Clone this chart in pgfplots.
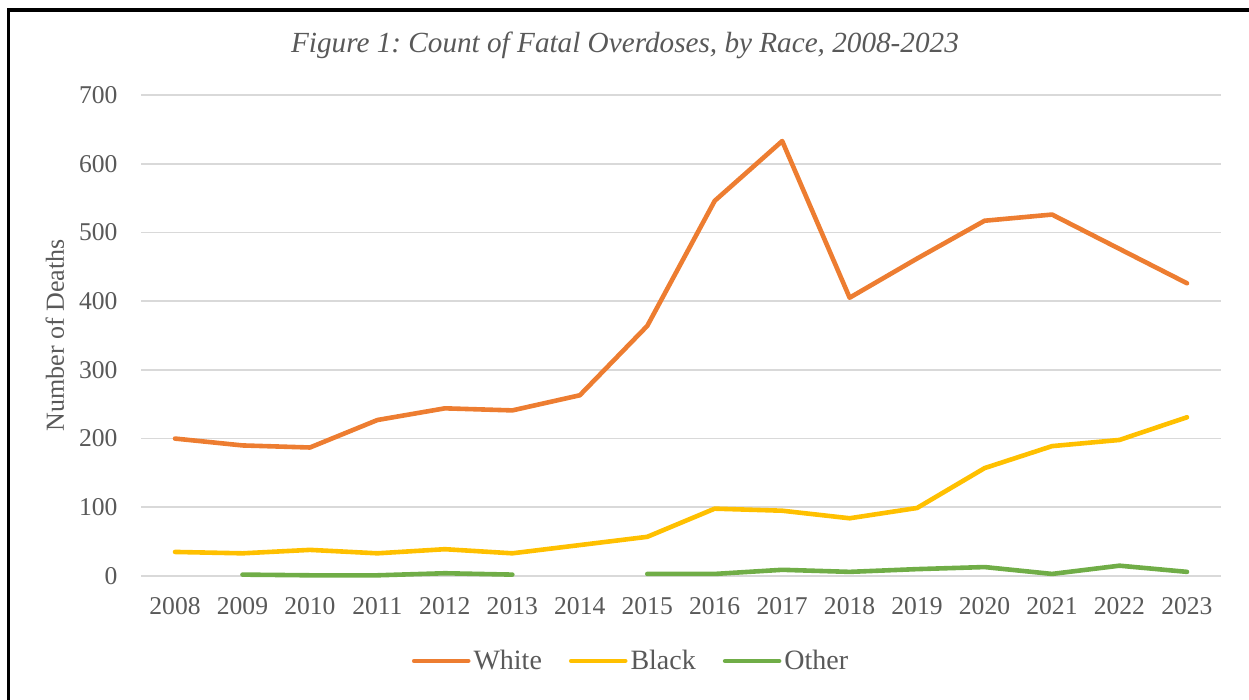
\documentclass[border=0pt]{standalone}
\usepackage{pgfplots}
\pgfplotsset{compat=1.18}
\usepackage{fontspec}
\setmainfont{Liberation Serif}
\frenchspacing

\definecolor{txtgray}{HTML}{595959}
\definecolor{gridgray}{HTML}{D9D9D9}
\definecolor{cWhite}{HTML}{ED7D31}
\definecolor{cBlack}{HTML}{FFC000}
\definecolor{cOther}{HTML}{70AD47}

\begin{document}
\begin{tikzpicture}
\path[use as bounding box] (0,0) rectangle (624.5pt,350pt);
% frame around the figure
\draw[line width=1.8pt, black] (4.2pt,0) -- (4.2pt,344.85pt) -- (624.5pt,344.85pt);
% figure caption
\node[font=\fontsize{14.6}{17}\selectfont\itshape, text=txtgray, anchor=center]
  at (312.5pt,327.5pt) {Figure 1: Count of Fatal Overdoses, by Race, 2008-2023};

\begin{axis}[
  at={(70.65pt,62pt)}, anchor=south west,
  scale only axis, width=539.7pt, height=240.5pt,
  xmin=2007.5, xmax=2023.5, ymin=0, ymax=700,
  xtick={2008,...,2023}, ytick={0,100,...,700},
  xticklabel={\pgfmathprintnumber[1000 sep={}]{\tick}},
  /pgf/number format/assume math mode=true,
  /pgf/number format/1000 sep={},
  axis line style={draw=none}, tick style={draw=none},
  ymajorgrids, grid style={gridgray, line width=0.8pt},
  ticklabel style={text=txtgray, font=\fontsize{12.8}{15}\selectfont},
  xticklabel style={inner sep=0pt, anchor=north, yshift=-10.5pt},
  yticklabel style={inner sep=0pt, anchor=east, xshift=-11.7pt},
  ylabel={Number of Deaths},
  ylabel style={at={(axis description cs:-0.08,0.5)}, anchor=center, rotate=0,
    text=txtgray, font=\fontsize{13}{15}\selectfont},
  clip=false,
  unbounded coords=jump,
  every axis plot/.append style={line width=2.3pt, line cap=round, line join=round},
  legend columns=3,
  legend style={at={(axis description cs:0.4542,-0.1767)}, anchor=center, draw=none,
    fill=none, font=\fontsize{14}{16}\selectfont, text=txtgray,
    /tikz/every even column/.append style={column sep=12pt},
    nodes={inner sep=1.5pt}},
  legend image code/.code={\draw[#1, line cap=round] (0pt,0pt) -- (27pt,0pt);},
]
% White
\addplot[cWhite] coordinates {
  (2008,200) (2009,190) (2010,187) (2011,227) (2012,244) (2013,241)
  (2014,263) (2015,364) (2016,546) (2017,633) (2018,405) (2019,462)
  (2020,517) (2021,526) (2022,476) (2023,426)};
\addlegendentry{White}
% Black
\addplot[cBlack] coordinates {
  (2008,35) (2009,33) (2010,38) (2011,33) (2012,39) (2013,33)
  (2014,45) (2015,57) (2016,98) (2017,95) (2018,84) (2019,99)
  (2020,157) (2021,189) (2022,198) (2023,231)};
\addlegendentry{Black}
% Other (no counts reported for 2008 and 2014)
\addplot[cOther] coordinates {
  (2009,2) (2010,1) (2011,1) (2012,4) (2013,2) (2014,nan)
  (2015,3) (2016,3) (2017,9) (2018,6) (2019,10) (2020,13)
  (2021,3) (2022,15) (2023,6)};
\addlegendentry{Other}
\end{axis}
\end{tikzpicture}
\end{document}
